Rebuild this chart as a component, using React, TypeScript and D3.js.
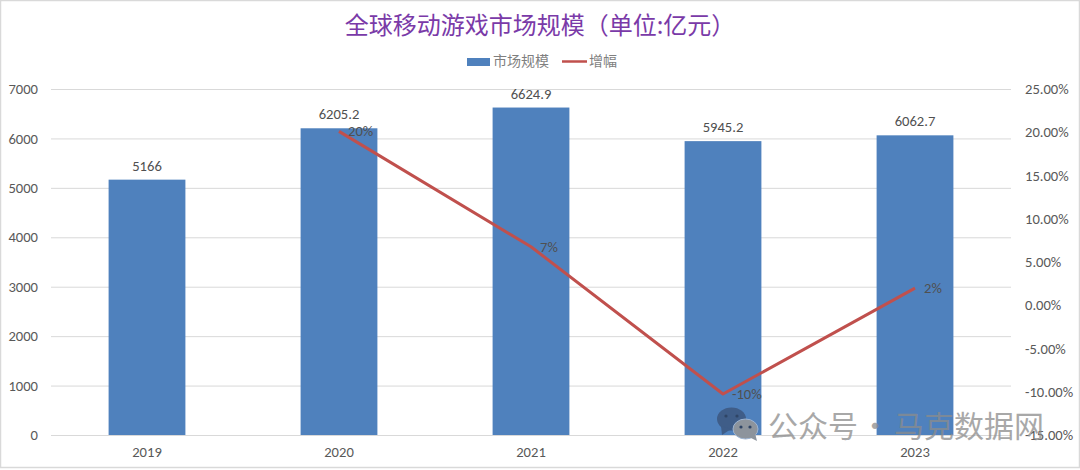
import React, { useEffect, useRef } from "react";
import * as d3 from "d3";

const years = ["2019", "2020", "2021", "2022", "2023"];
const marketSize = [5166, 6205.2, 6624.9, 5945.2, 6062.7];
const marketLabels = ["5166", "6205.2", "6624.9", "5945.2", "6062.7"];
const growthYears = ["2020", "2021", "2022", "2023"];
const growth = [20.1, 6.76, -10.26, 1.98];
const growthLabels = ["20%", "7%", "-10%", "2%"];
const leftTicks = [0, 1000, 2000, 3000, 4000, 5000, 6000, 7000];
const rightTicks = [-15, -10, -5, 0, 5, 10, 15, 20, 25];

const W = 1080;
const H = 470;
const FONT = "Calibri, Carlito, 'Open Sans', 'Noto Sans CJK SC', sans-serif";
const CJK = "'Noto Sans CJK SC', sans-serif";

const App = () => {
    const ref = useRef<SVGSVGElement>(null);

    useEffect(() => {
        document.body.style.margin = "0";
        const svg = d3.select(ref.current);
        svg.selectAll("*").remove();

        const x = d3.scaleBand<string>().domain(years).range([51, 1011]).paddingInner(0.6).paddingOuter(0.3);
        const y = d3.scaleLinear().domain([0, 7000]).range([435, 89]);
        const y2 = d3.scaleLinear().domain([-15, 25]).range([435, 89]);
        const cx = (d: string) => (x(d) as number) + x.bandwidth() / 2;

        // outer frame
        svg.append("rect").attr("x", 0.5).attr("y", 0.5).attr("width", W - 1).attr("height", H - 3)
            .attr("fill", "#fff").attr("stroke", "#d9d9d9").attr("stroke-width", 1.5);

        // title
        svg.append("text").attr("x", 540).attr("y", 34).attr("text-anchor", "middle")
            .attr("font-family", CJK).attr("font-size", 24).attr("fill", "#7a3aa8")
            .text("全球移动游戏市场规模（单位:亿元）");

        // legend
        const legend = svg.append("g");
        legend.append("rect").attr("x", 467).attr("y", 58).attr("width", 23).attr("height", 8).attr("fill", "#4f81bd");
        legend.append("text").attr("x", 493).attr("y", 66).attr("font-family", CJK).attr("font-size", 14)
            .attr("fill", "#7f7f7f").text("市场规模");
        legend.append("line").attr("x1", 562).attr("x2", 587).attr("y1", 61.5).attr("y2", 61.5)
            .attr("stroke", "#c0504d").attr("stroke-width", 2.5);
        legend.append("text").attr("x", 589).attr("y", 66).attr("font-family", CJK).attr("font-size", 14)
            .attr("fill", "#7f7f7f").text("增幅");

        // grid
        svg.append("g").selectAll("line").data(leftTicks).join("line")
            .attr("x1", 51).attr("x2", 1011)
            .attr("y1", (d) => y(d) + 0.5).attr("y2", (d) => y(d) + 0.5)
            .attr("stroke", "#d9d9d9").attr("stroke-width", 1);

        // axes
        const leftAxis = svg.append("g").attr("transform", "translate(38,0)")
            .call(d3.axisLeft(y).tickValues(leftTicks).tickFormat((d) => String(d)).tickSize(0).tickPadding(0));
        const rightAxis = svg.append("g").attr("transform", "translate(1025,0)")
            .call(d3.axisRight(y2).tickValues(rightTicks).tickFormat((d) => `${(+d).toFixed(2)}%`).tickSize(0).tickPadding(0));
        const bottomAxis = svg.append("g").attr("transform", "translate(0,447)")
            .call(d3.axisBottom(x).tickSize(0).tickPadding(0));
        [leftAxis, rightAxis, bottomAxis].forEach((a) => {
            a.select(".domain").remove();
            a.selectAll("text").attr("font-family", FONT).attr("font-size", 14.6).attr("fill", "#595959");
        });

        // bars
        svg.append("g").selectAll("rect").data(years).join("rect")
            .attr("x", (d) => x(d) as number)
            .attr("width", x.bandwidth())
            .attr("y", (_, i) => y(marketSize[i]))
            .attr("height", (_, i) => y(0) - y(marketSize[i]))
            .attr("fill", "#4f81bd");

        svg.append("g").selectAll("text").data(years).join("text")
            .attr("x", cx)
            .attr("y", (_, i) => y(marketSize[i]) - 9)
            .attr("text-anchor", "middle")
            .attr("font-family", FONT).attr("font-size", 14.6).attr("fill", "#505050")
            .text((_, i) => marketLabels[i]);

        // growth line
        const lineGen = d3.line<string>().x(cx).y((_, i) => y2(growth[i]));
        svg.append("path").datum(growthYears).attr("d", lineGen)
            .attr("fill", "none").attr("stroke", "#c0504d").attr("stroke-width", 3).attr("stroke-linejoin", "round");

        svg.append("g").selectAll("text").data(growthYears).join("text")
            .attr("x", (d) => cx(d) + 9)
            .attr("y", (_, i) => y2(growth[i]) + 5)
            .attr("font-family", FONT).attr("font-size", 14.6).attr("fill", "#505050")
            .text((_, i) => growthLabels[i]);

        // watermark
        const mark = svg.append("g");
        mark.append("ellipse").attr("cx", 731.5).attr("cy", 419).attr("rx", 14.5).attr("ry", 11.5).attr("fill", "#3f5d88");
        mark.append("path").attr("d", "M721 426 L722 435 L731 429 Z").attr("fill", "#3f5d88");
        mark.append("ellipse").attr("cx", 745.5).attr("cy", 429).attr("rx", 12.5).attr("ry", 10).attr("fill", "#8d949c").attr("stroke", "#9db4d2").attr("stroke-width", 1);
        mark.append("path").attr("d", "M749 437 L757 441 L755 433 Z").attr("fill", "#8d949c");
        [[726, 416], [737, 416], [741, 427], [750, 427]].forEach(([a, b]) => {
            mark.append("circle").attr("cx", a).attr("cy", b).attr("r", 1.6).attr("fill", "#2f4566");
        });
        const markText = svg.append("g").attr("font-family", CJK).attr("font-size", 30)
            .attr("fill", "#8c8c8c").attr("opacity", 0.75);
        markText.append("text").attr("x", 768).attr("y", 437).text("公众号");
        markText.append("text").attr("x", 875).attr("y", 437).attr("text-anchor", "middle").text("·");
        markText.append("text").attr("x", 894).attr("y", 437).text("马克数据网");
    }, []);

    return <svg ref={ref} width={W} height={H} style={{ display: "block" }} />;
};

export default App;
